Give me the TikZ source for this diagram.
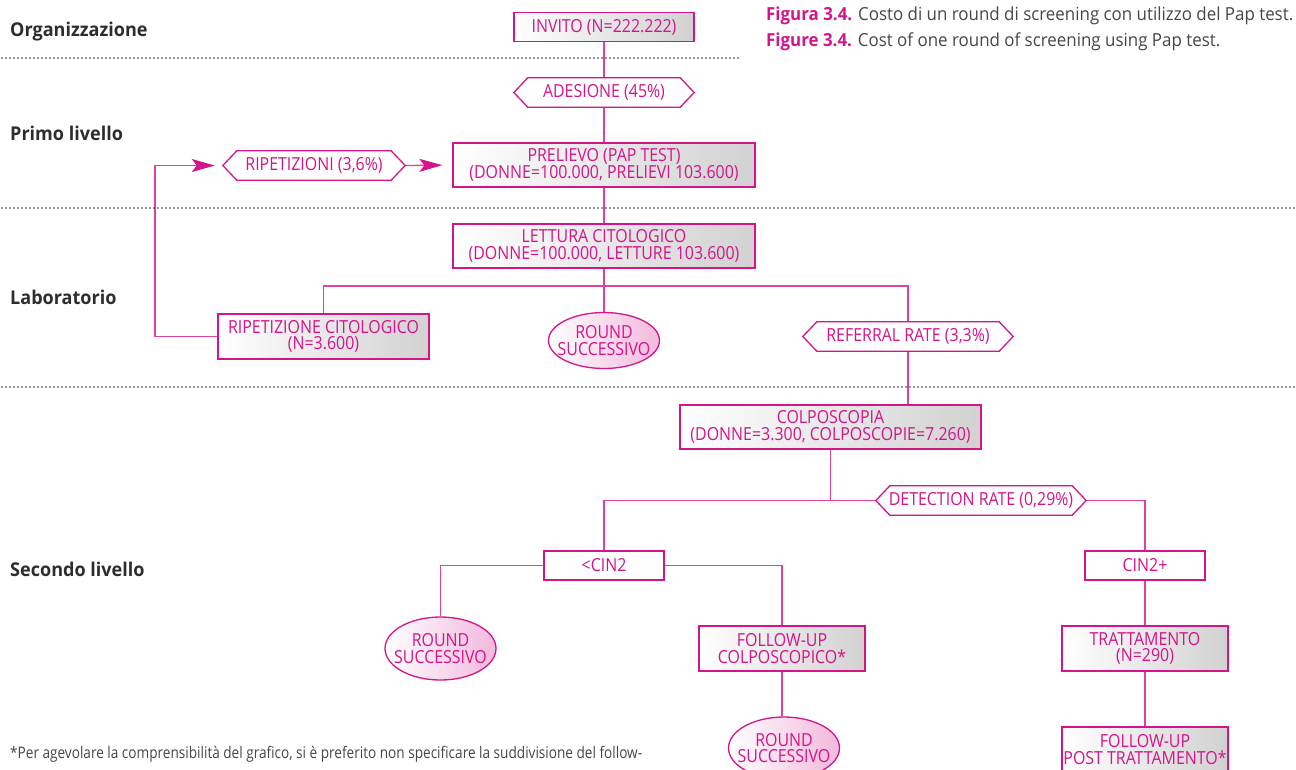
\documentclass[tikz,border=0pt]{standalone}
\usepackage{fontspec}
\setmainfont{Open Sans}[FakeStretch=0.885]
\newfontfamily\capfont{Open Sans}[FakeStretch=0.94]
\newfontfamily\footfont{Open Sans}[FakeStretch=0.85]
\newfontfamily\lblfont{Open Sans}[FakeStretch=0.95]
\usetikzlibrary{arrows.meta,shapes.geometric}
\definecolor{mag}{RGB}{212,20,138}
\definecolor{magline}{RGB}{224,64,158}
\definecolor{labgray}{RGB}{45,45,45}
\definecolor{capgray}{RGB}{70,70,70}
\pgfdeclarelayer{bg}\pgfdeclarelayer{mid}\pgfsetlayers{bg,mid,main}
\newcommand\nodefont{\fontsize{18}{16.5}\selectfont}
\newcommand\hexdraw[1]{\begin{pgfonlayer}{mid}\draw[draw=mag,line width=1.3pt,fill=white] (#1.west) -- ([xshift=14pt]#1.north west) -- ([xshift=-14pt]#1.north east) -- (#1.east) -- ([xshift=-14pt]#1.south east) -- ([xshift=14pt]#1.south west) -- cycle;\end{pgfonlayer}}
\tikzset{
  sz/.style 2 args={minimum width=#1pt, minimum height=#2pt},
  base/.style={inner sep=0pt, align=center, text=mag, font=\nodefont},
  box/.style={base, draw=mag, line width=1.3pt, left color=white, right color=black!18},
  plainbox/.style={base, draw=mag, line width=1.3pt, fill=white},
  ell/.style={inner sep=0pt, ellipse, draw=mag, line width=1.3pt, left color=white, right color=mag!30},
  hexa/.style={base},
  conn/.style={draw=magline, line width=1.3pt},
  sep/.style={draw=labgray, line width=1.7pt, dash pattern=on 0pt off 4pt, line cap=round},
  lvl/.style={anchor=west, inner sep=0pt, text=labgray, font=\lblfont\fontsize{19}{22}\selectfont\bfseries},
  arr/.style={conn, -{Stealth[length=23pt,width=13pt,inset=5pt,color=mag,fill=mag]}}
}
\begin{document}
\begin{tikzpicture}[x=1pt,y=-1pt]
\useasboundingbox (0,0) rectangle (1296,769);
\clip (0,0) rectangle (1296,769);

% level labels
\node[lvl] (lorg) at (10,32) {Organizzazione};
\node[lvl] (lpri) at (10,133) {Primo livello};
\node[lvl] (llab) at (10,297) {Laboratorio};
\node[lvl] (lsec) at (10,569) {Secondo livello};

% separators
\coordinate (s1a) at (2,58); \coordinate (s1b) at (740,58);
\coordinate (s2a) at (2,208); \coordinate (s2b) at (1296,208);
\coordinate (s3a) at (2,387); \coordinate (s3b) at (1296,387);
\draw[sep] (s1a) -- (s1b);
\draw[sep] (s2a) -- (s2b);
\draw[sep] (s3a) -- (s3b);

% caption
\node[anchor=base west, inner sep=0pt, text=capgray, font=\capfont\fontsize{18}{20}\selectfont] (cap1) at (766,20) {{\color{mag}\bfseries Figura 3.4.} Costo di un round di screening con utilizzo del Pap test.};
\node[anchor=base west, inner sep=0pt, text=capgray, font=\capfont\fontsize{18}{20}\selectfont] (cap2) at (766,46) {{\color{mag}\bfseries Figure 3.4.} Cost of one round of screening using Pap test.};

% footnote
\node[anchor=base west, inner sep=0pt, text=capgray, font=\footfont\fontsize{16}{18}\selectfont] (foot) at (10,758) {*Per agevolare la comprensibilità del grafico, si è preferito non specificare la suddivisione del follow-};

% nodes
\node[box, sz={180}{29}] (invito) at (604,27) {INVITO (N=222.222)};
\node[hexa, sz={180}{29}] (adesione) at (604,92.5) {ADESIONE (45\%)}; \hexdraw{adesione}
\node[box, sz={302}{44}] (prelievo) at (604,165) {PRELIEVO (PAP TEST)\\(DONNE=100.000, PRELIEVI 103.600)};
\node[hexa, sz={182}{29}] (ripet) at (314,165.5) {RIPETIZIONI (3,6\%)}; \hexdraw{ripet}
\node[box, sz={302}{44}] (lettura) at (604,246) {LETTURA CITOLOGICO\\(DONNE=100.000, LETTURE 103.600)};
\node[box, sz={211}{45}] (ripcit) at (323.5,336.5) {RIPETIZIONE CITOLOGICO\\(N=3.600)};
\node[ell, sz={111}{56}] (round1) at (604,340.5) {};
\node[base] (round1t) at (round1.center) {ROUND\\SUCCESSIVO};
\node[hexa, sz={210}{29}] (referral) at (908,336.5) {REFERRAL RATE (3,3\%)}; \hexdraw{referral}
\node[box, sz={301}{44}] (colpo) at (830.5,427) {COLPOSCOPIA\\(DONNE=3.300, COLPOSCOPIE=7.260)};
\node[hexa, sz={210}{29}] (detect) at (981,500.5) {DETECTION RATE (0,29\%)}; \hexdraw{detect}
\node[plainbox, sz={120}{29}] (cin2) at (604,565.5) {<CIN2};
\node[plainbox, sz={120}{29}] (cin2p) at (1145,565.5) {CIN2+};
\node[ell, sz={111}{63}] (round2) at (440.5,648.5) {};
\node[base] (round2t) at (round2.center) {ROUND\\SUCCESSIVO};
\node[box, sz={166}{45}] (fu1) at (782,648.5) {FOLLOW-UP\\COLPOSCOPICO*};
\node[ell, sz={111}{62}] (round3) at (784,748) {};
\node[base] (round3t) at (round3.center) {ROUND\\SUCCESSIVO};
\node[box, sz={166}{45}] (tratt) at (1145,648.5) {TRATTAMENTO\\(N=290)};
\node[box, sz={166}{45}] (fu2) at (1145,749.5) {FOLLOW-UP\\POST TRATTAMENTO*};

% junctions
\coordinate (j1) at (604,286);
\coordinate (loop) at (155,165.5);
\coordinate (j2) at (830.5,500.5);

\begin{pgfonlayer}{bg}
\draw[conn] (invito.south) -- (adesione.north);
\draw[conn] (adesione.south) -- (prelievo.north);
\draw[conn] (prelievo.south) -- (lettura.north);
\draw[conn] (lettura.south) -- (j1);
\draw[conn] (ripcit.north) |- (j1) -| (referral.north);
\draw[conn] (j1) -- (round1.north);
\draw[arr, shorten >=8pt] (ripcit.west) -| (loop) -- (ripet.west);
\draw[arr, shorten >=10pt] (ripet.east) -- (prelievo.west);
\draw[conn] (referral.south) -- (referral.south |- colpo.north);
\draw[conn] (colpo.south) -- (j2);
\draw[conn] (cin2.north) |- (j2) -- (cin2p.north |- j2) -- (cin2p.north);
\draw[conn] (cin2.west) -| (round2.north);
\draw[conn] (cin2.east) -| (fu1.north);
\draw[conn] (fu1.south) -- (fu1.south |- round3.north);
\draw[conn] (cin2p.south) -- (tratt.north);
\draw[conn] (tratt.south) -- (fu2.north);
\end{pgfonlayer}
\end{tikzpicture}
\end{document}
